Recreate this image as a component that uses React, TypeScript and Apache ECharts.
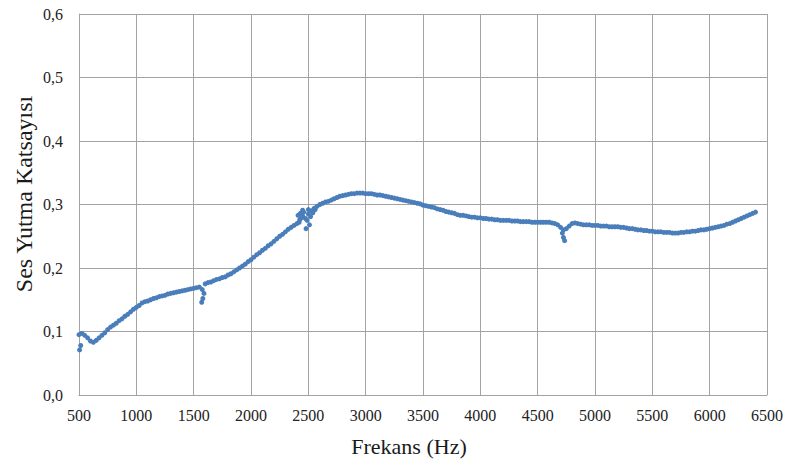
import React, { useEffect, useRef } from "react";
import * as echarts from "echarts";

// Frequency grid (Hz) of the measured series
const freqStart = 500;
const freqStep = 25;

// Sound absorption coefficient, one value per frequency step (500 ... 6400 Hz)
const absorption = [
  0.095, 0.097, 0.094, 0.090, 0.085, 0.083, 0.086, 0.090, 0.094, 0.098,
  0.103, 0.107, 0.110, 0.113, 0.117, 0.120, 0.124, 0.127, 0.131, 0.135,
  0.138, 0.141, 0.145, 0.147, 0.148, 0.150, 0.152, 0.153, 0.155, 0.156,
  0.157, 0.159, 0.160, 0.161, 0.162, 0.163, 0.164, 0.165, 0.166, 0.167,
  0.168, 0.169, 0.170, 0.166, 0.175, 0.177, 0.178, 0.180, 0.182, 0.183,
  0.185, 0.186, 0.189, 0.191, 0.194, 0.197, 0.200, 0.203, 0.206, 0.210,
  0.213, 0.217, 0.221, 0.224, 0.228, 0.231, 0.235, 0.238, 0.242, 0.246,
  0.250, 0.253, 0.257, 0.261, 0.264, 0.267, 0.270, 0.276, 0.282, 0.278,
  0.285, 0.290, 0.294, 0.297, 0.300, 0.302, 0.304, 0.305, 0.307, 0.309,
  0.311, 0.313, 0.314, 0.315, 0.316, 0.317, 0.317, 0.318, 0.318, 0.318,
  0.317, 0.317, 0.317, 0.316, 0.315, 0.315, 0.314, 0.313, 0.312, 0.311,
  0.310, 0.309, 0.308, 0.307, 0.306, 0.305, 0.304, 0.303, 0.302, 0.301,
  0.299, 0.298, 0.297, 0.296, 0.295, 0.293, 0.292, 0.291, 0.289, 0.288,
  0.287, 0.286, 0.284, 0.283, 0.283, 0.282, 0.281, 0.280, 0.280, 0.279,
  0.279, 0.278, 0.278, 0.277, 0.277, 0.276, 0.276, 0.275, 0.275, 0.275,
  0.275, 0.274, 0.274, 0.274, 0.273, 0.273, 0.273, 0.273, 0.272, 0.272,
  0.272, 0.272, 0.272, 0.272, 0.272, 0.271, 0.270, 0.268, 0.264, 0.260,
  0.262, 0.266, 0.270, 0.271, 0.270, 0.269, 0.268, 0.268, 0.268, 0.267,
  0.267, 0.267, 0.266, 0.266, 0.266, 0.265, 0.265, 0.265, 0.265, 0.264,
  0.264, 0.263, 0.262, 0.262, 0.261, 0.260, 0.260, 0.259, 0.259, 0.258,
  0.258, 0.257, 0.257, 0.257, 0.256, 0.256, 0.256, 0.255, 0.255, 0.255,
  0.256, 0.256, 0.257, 0.257, 0.258, 0.258, 0.259, 0.260, 0.260, 0.261,
  0.262, 0.263, 0.264, 0.265, 0.266, 0.267, 0.269, 0.270, 0.272, 0.274,
  0.276, 0.278, 0.280, 0.282, 0.284, 0.286, 0.288,
];

// Scattered outlier measurements [frequency, coefficient]
const strayFreqs = [505, 515, 1570, 1580, 1590, 2410, 2420, 2430, 2440, 2450, 2460, 2480, 2490, 2500, 2510, 2520, 2540, 2560, 4715, 4725, 4735];
const strayValues = [0.071, 0.078, 0.146, 0.152, 0.160, 0.283, 0.272, 0.286, 0.279, 0.291, 0.288, 0.262, 0.275, 0.292, 0.268, 0.281, 0.287, 0.292, 0.255, 0.248, 0.243];

const xTitle = "Frekans (Hz)";
const yTitle = "Ses Yutma Katsayısı";

const FONT = "Liberation Serif";

export default function App() {
  const ref = useRef<HTMLDivElement>(null);
  useEffect(() => {
    if (!ref.current) return;
    const chart = echarts.init(ref.current, undefined, { renderer: "svg" });
    const data: number[][] = absorption.map((v, i) => [freqStart + i * freqStep, v]);
    strayFreqs.forEach((f, i) => data.push([f, strayValues[i]]));
    const gridColor = "#a3a3a3";
    chart.setOption({
      animation: false,
      backgroundColor: "#ffffff",
      grid: { left: 79, right: 19, top: 14, bottom: 67, containLabel: false, outerBoundsMode: "none" },
      graphic: [
        {
          type: "text",
          x: 409,
          y: 446,
          style: {
            text: xTitle,
            fontFamily: FONT,
            fontSize: 22,
            fill: "#1a1a1a",
            textAlign: "center",
            textVerticalAlign: "middle",
          },
        },
        {
          type: "text",
          x: 24,
          y: 194,
          rotation: Math.PI / 2,
          style: {
            text: yTitle,
            fontFamily: FONT,
            fontSize: 24,
            fill: "#1a1a1a",
            textAlign: "center",
            textVerticalAlign: "middle",
          },
        },
      ],
      xAxis: {
        type: "value",
        min: 500,
        max: 6500,
        interval: 500,
        axisLine: { show: true, lineStyle: { color: gridColor, width: 1 } },
        axisTick: { show: false },
        axisLabel: {
          fontFamily: FONT,
          fontSize: 16,
          color: "#222",
          margin: 12,
          formatter: (v: number) => String(v),
        },
        splitLine: { show: true, lineStyle: { color: gridColor, width: 1 } },
      },
      yAxis: {
        type: "value",
        min: 0,
        max: 0.6,
        interval: 0.1,
        axisLine: { show: true, lineStyle: { color: gridColor, width: 1 } },
        axisTick: { show: false },
        axisLabel: {
          fontFamily: FONT,
          fontSize: 16,
          color: "#222",
          margin: 16,
          formatter: (v: number) => v.toFixed(1).replace(".", ","),
        },
        splitLine: { show: true, lineStyle: { color: gridColor, width: 1 } },
      },
      series: [
        {
          type: "scatter",
          data,
          symbol: "circle",
          symbolSize: 5,
          itemStyle: { color: "#4a7ebb", opacity: 1 },
        },
      ],
    });
    return () => chart.dispose();
  }, []);
  return <div ref={ref} style={{ position: "fixed", left: 0, top: 0, width: 786, height: 462 }} />;
}
